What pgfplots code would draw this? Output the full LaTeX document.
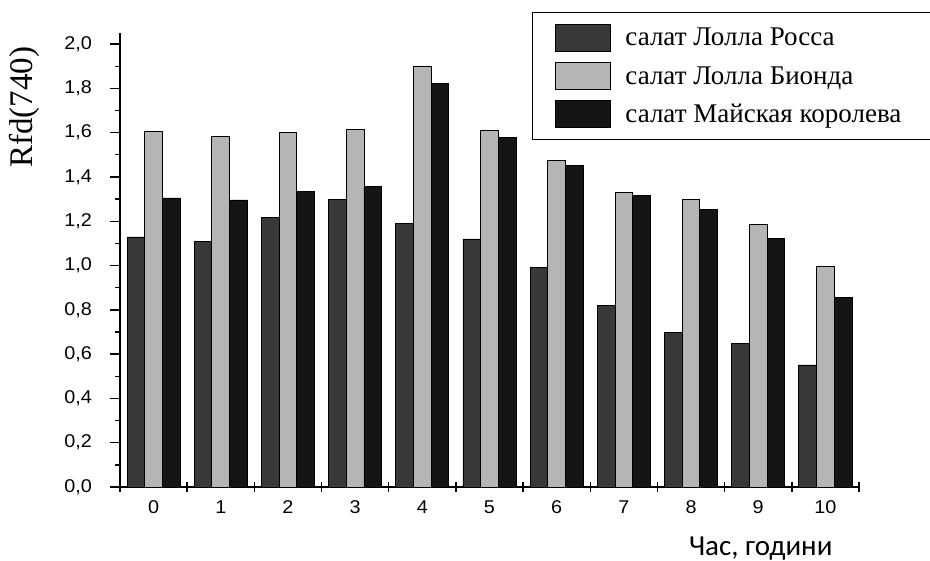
\documentclass[border=0pt]{standalone}
\usepackage{pgfplots}
\pgfplotsset{compat=1.18}
\usepackage{fontspec}
\setmainfont{Liberation Serif}
\newfontfamily\tickfont[FakeStretch=1.07]{Liberation Sans}
\newfontfamily\carlito{Carlito}
\definecolor{cRossa}{HTML}{383838}
\definecolor{cBionda}{HTML}{B5B5B5}
\definecolor{cMay}{HTML}{151515}
\begin{document}
\begin{tikzpicture}
\useasboundingbox (0,0) rectangle (930pt,561pt);
\begin{axis}[
  at={(120pt,74pt)}, anchor=south west,
  scale only axis, width=739pt, height=454pt,
  xmin=-0.5, xmax=10.5, ymin=0, ymax=2.05,
  axis x line*=bottom, axis y line*=left,
  axis line style={line width=1.4pt, -},
  ybar=0pt, bar width=17.7pt,
  tick align=outside,
  major tick length=10pt, minor tick length=5pt,
  tick style={line width=1.4pt, black},
  xtick={0,1,2,3,4,5,6,7,8,9,10},
  xticklabels={0,1,2,3,4,5,6,7,8,9,10},
  xtick style={draw=none},
  extra x ticks={-0.5,0.5,1.5,2.5,3.5,4.5,5.5,6.5,7.5,8.5,9.5,10.5},
  extra x tick labels={},
  extra x tick style={tick align=center, xtick style={draw=black, line width=1.4pt}},
  ytick={0,0.2,0.4,0.6,0.8,1.0,1.2,1.4,1.6,1.8,2.0},
  minor ytick={0.1,0.3,0.5,0.7,0.9,1.1,1.3,1.5,1.7,1.9},
  yticklabel style={font=\tickfont\fontsize{18.5}{18.5}\selectfont, anchor=east, inner sep=0pt, xshift=-18pt,
    /pgf/number format/.cd, fixed, fixed zerofill, precision=1, use comma, assume math mode=true},
  xticklabel style={font=\tickfont\fontsize{18.5}{18.5}\selectfont, anchor=base, inner sep=0pt, yshift=-17pt},
  ylabel={Rfd(740)},
  ylabel style={at={(axis description cs:-0.130,0.836)}, anchor=center, font=\fontsize{33}{33}\selectfont},
  xlabel={Час, години},
  xlabel style={at={(axis description cs:0.867,-0.1498)}, anchor=base, font=\carlito\fontsize{29}{29}\selectfont},
  legend style={at={(axis description cs:0.5575,1.0463)}, anchor=north west, draw=black, line width=1.2pt,
    font=\fontsize{27}{32}\selectfont, inner xsep=22pt, inner ysep=11pt, row sep=10.5pt, column sep=14pt,
    nodes={inner sep=1pt}},
  legend cell align=left,
  legend image code/.code={\draw[#1, line width=0.9pt] (0pt,-13.5pt) rectangle (55pt,13.5pt);},
]
\addplot[fill=cRossa, draw=black, line width=0.9pt] coordinates {
 (0,1.129) (1,1.109) (2,1.219) (3,1.297) (4,1.192) (5,1.120) (6,0.990) (7,0.818) (8,0.698) (9,0.646) (10,0.551)};
\addlegendentry{\makebox[300pt][l]{салат Лолла Росса}}
\addplot[fill=cBionda, draw=black, line width=0.9pt] coordinates {
 (0,1.604) (1,1.583) (2,1.600) (3,1.616) (4,1.901) (5,1.610) (6,1.476) (7,1.329) (8,1.297) (9,1.184) (10,0.995)};
\addlegendentry{\makebox[300pt][l]{салат Лолла Бионда}}
\addplot[fill=cMay, draw=black, line width=0.9pt] coordinates {
 (0,1.305) (1,1.296) (2,1.333) (3,1.357) (4,1.822) (5,1.579) (6,1.451) (7,1.317) (8,1.252) (9,1.123) (10,0.855)};
\addlegendentry{\makebox[300pt][l]{салат Майская королева}}
\end{axis}
\end{tikzpicture}
\end{document}
